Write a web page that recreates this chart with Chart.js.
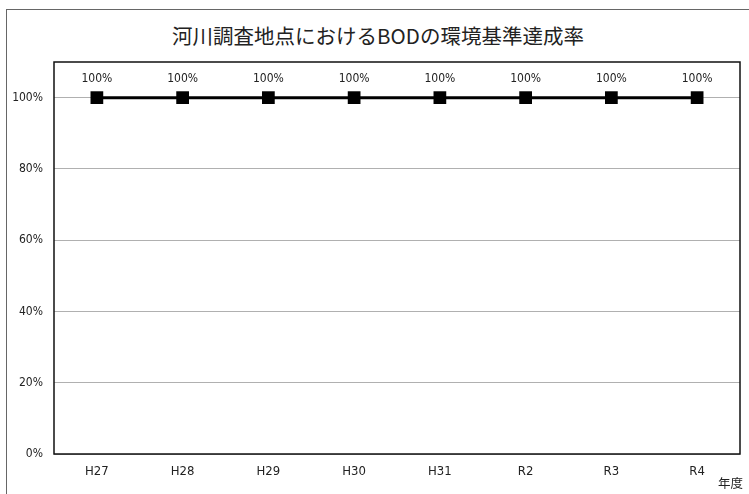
<!DOCTYPE html>
<html>
<head>
<meta charset="utf-8">
<script src="https://cdn.jsdelivr.net/npm/chart.js@4/dist/chart.umd.min.js"></script>
<style>
  html, body { margin: 0; padding: 0; background: #fff; overflow: hidden; }
  #wrap { position: relative; width: 749px; height: 494px; }
  #frame { position: absolute; left: 6px; top: 9px; width: 800px; height: 600px; border: 1px solid #666; }
  #title { position: absolute; left: 0; width: 756px; top: 20px; text-align: center;
           font: 20.5px "Noto Sans CJK JP", sans-serif; color: #222; }
  #unit { position: absolute; left: 718px; top: 473px; font: 12.5px "Noto Sans CJK JP", sans-serif; color: #222; }
  canvas { position: absolute; left: 0; top: 0; }
</style>
</head>
<body>
<div id="wrap">
  <div id="frame"></div>
  <div id="title">河川調査地点におけるBODの環境基準達成率</div>
  <canvas id="chart" width="749" height="494"></canvas>
  <div id="unit">年度</div>
</div>
<script>
// data
const years = ['H27', 'H28', 'H29', 'H30', 'H31', 'R2', 'R3', 'R4'];
const rates = [100, 100, 100, 100, 100, 100, 100, 100];
const yTicks = [0, 20, 40, 60, 80, 100];

const labelFont = "'Liberation Sans Narrow', 'DejaVu Sans Condensed', Arial, sans-serif";

// labels above each point
const valueLabels = {
  id: 'valueLabels',
  afterDatasetsDraw(chart) {
    const ctx = chart.ctx;
    const meta = chart.getDatasetMeta(0);
    ctx.save();
    ctx.font = '12px ' + labelFont;
    ctx.fillStyle = '#222';
    ctx.textAlign = 'center';
    ctx.textBaseline = 'middle';
    meta.data.forEach((pt, i) => {
      ctx.fillText(rates[i] + '%', pt.x, pt.y - 19);
    });
    ctx.restore();
  }
};

// black frame around the plot area
const plotFrame = {
  id: 'plotFrame',
  afterDraw(chart) {
    const a = chart.chartArea;
    const ctx = chart.ctx;
    ctx.save();
    ctx.strokeStyle = '#111';
    ctx.lineWidth = 1.5;
    ctx.strokeRect(a.left, a.top, a.right - a.left, a.bottom - a.top);
    ctx.restore();
  }
};

new Chart(document.getElementById('chart'), {
  type: 'line',
  data: {
    labels: years,
    datasets: [{
      data: rates,
      borderColor: '#000',
      backgroundColor: '#000',
      borderWidth: 3,
      pointStyle: 'rect',
      pointRadius: 9,
      pointBorderWidth: 0,
      tension: 0
    }]
  },
  options: {
    responsive: false,
    animation: false,
    layout: { padding: { left: 0, right: 9, top: 62, bottom: 0 } },
    plugins: { legend: { display: false }, tooltip: { enabled: false } },
    scales: {
      x: {
        offset: true,
        grid: { display: false, drawTicks: false },
        border: { display: false },
        ticks: { padding: 10, color: '#222', font: { size: 13, family: labelFont } },
        afterFit: s => { s.height = 40; }
      },
      y: {
        min: 0,
        max: 110,
        grid: { color: '#b0b0b0', drawTicks: false, lineWidth: 1 },
        border: { display: false },
        ticks: {
          stepSize: 20,
          padding: 11,
          color: '#222',
          font: { size: 12, family: labelFont },
          callback: v => v + '%'
        },
        afterBuildTicks: s => { s.ticks = s.ticks.filter(t => yTicks.includes(t.value)); },
        afterFit: s => { s.width = 54; }
      }
    }
  },
  plugins: [valueLabels, plotFrame]
});
</script>
</body>
</html>
